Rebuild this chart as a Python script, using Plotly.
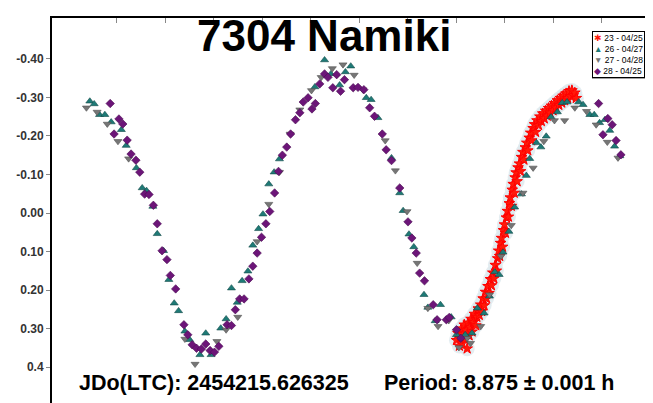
import plotly.graph_objects as go

# ================================
# Lightcurve data (phase, magnitude)
# ================================

# 23 - 04/25 (dense session)
ph23 = [0.700, 0.703, 0.706, 0.708, 0.710, 0.712, 0.714, 0.716, 0.718, 0.720,
        0.722, 0.724, 0.726, 0.728, 0.730, 0.732, 0.735, 0.737, 0.740, 0.742,
        0.745, 0.747, 0.750, 0.752, 0.755, 0.757, 0.760, 0.762, 0.765, 0.767,
        0.770, 0.772, 0.775, 0.777, 0.780, 0.782, 0.785, 0.787, 0.789, 0.791,
        0.793, 0.795, 0.797, 0.799, 0.801, 0.803, 0.805, 0.807, 0.809, 0.811,
        0.813, 0.815, 0.817, 0.819, 0.821, 0.823, 0.825, 0.827, 0.830, 0.832,
        0.834, 0.837, 0.839, 0.842, 0.845, 0.847, 0.850, 0.853, 0.855, 0.858,
        0.861, 0.863, 0.866, 0.869, 0.872, 0.875, 0.878, 0.881, 0.884, 0.887,
        0.890, 0.893, 0.896, 0.899, 0.902, 0.905, 0.908, 0.911, 0.914, 0.917,
        0.920, 0.923, 0.926, 0.929, 0.932, 0.935, 0.938, 0.941, 0.944, 0.947]
mag23 = [0.330, 0.312, 0.345, 0.322, 0.300, 0.338, 0.315, 0.290, 0.328, 0.305,
         0.352, 0.285, 0.318, 0.296, 0.275, 0.308, 0.283, 0.262, 0.292, 0.270,
         0.248, 0.265, 0.238, 0.255, 0.222, 0.240, 0.205, 0.222, 0.190, 0.208,
         0.172, 0.188, 0.155, 0.170, 0.135, 0.150, 0.118, 0.098, 0.112, 0.078,
         0.065, 0.088, 0.045, 0.030, 0.052, 0.012, -0.005, 0.010, -0.025, -0.040,
         -0.018, -0.060, -0.075, -0.052, -0.092, -0.105, -0.082, -0.118, -0.128, -0.108,
         -0.145, -0.158, -0.138, -0.170, -0.182, -0.162, -0.195, -0.208, -0.188, -0.220,
         -0.230, -0.210, -0.240, -0.228, -0.250, -0.238, -0.258, -0.245, -0.265, -0.252,
         -0.272, -0.260, -0.278, -0.266, -0.285, -0.273, -0.292, -0.280, -0.298, -0.286,
         -0.304, -0.292, -0.310, -0.298, -0.316, -0.303, -0.318, -0.305, -0.312, -0.298]

# 26 - 04/27
ph26 = [-0.056, -0.047, -0.036, -0.025, -0.012, 0.009, 0.019, 0.040, 0.052, 0.061,
        0.074, 0.083, 0.096, 0.107, 0.118, 0.127, 0.140, 0.150, 0.171, 0.183,
        0.194, 0.214, 0.225, 0.236, 0.248, 0.258, 0.270, 0.280, 0.292, 0.301,
        0.313, 0.324, 0.335, 0.408, 0.428, 0.441, 0.459, 0.471, 0.482, 0.514,
        0.524, 0.538, 0.566, 0.583, 0.590, 0.602, 0.612, 0.633, 0.641, 0.656,
        0.667, 0.689, 0.700, 0.718, 0.732, 0.743, 0.757, 0.768, 0.779, 0.788,
        0.796, 0.808, 0.820, 0.834, 0.844, 0.851, 0.865, 0.874, 0.885, 0.895,
        0.908, 0.918, 0.928, 0.952, 0.961, 0.975, 0.984, 0.995, 1.006, 1.016,
        1.026, 1.037]
mag26 = [-0.290, -0.283, -0.255, -0.255, -0.236, -0.216, -0.175, -0.117, -0.065, -0.058,
         -0.017, 0.054, 0.098, 0.173, 0.234, 0.254, 0.307, 0.329, 0.368, 0.312,
         0.368, 0.299, 0.275, 0.195, 0.232, 0.176, 0.151, 0.084, 0.041, 0.003,
         -0.075, -0.106, -0.140, -0.327, -0.397, -0.361, -0.332, -0.366, -0.381, -0.299,
         -0.294, -0.247, -0.143, -0.052, -0.006, 0.055, 0.088, 0.212, 0.245, 0.280,
         0.238, 0.270, 0.316, 0.316, 0.312, 0.247, 0.260, 0.216, 0.153, 0.160,
         0.102, 0.048, -0.015, -0.049, -0.097, -0.141, -0.182, -0.171, -0.199, -0.249,
         -0.262, -0.286, -0.288, -0.288, -0.281, -0.255, -0.255, -0.234, -0.242, -0.214,
         -0.173, -0.148]

# 27 - 04/28
ph27 = [-0.063, -0.041, -0.020, 0.002, 0.024, 0.140, 0.161, 0.206, 0.225, 0.249,
        0.289, 0.313, 0.335, 0.357, 0.377, 0.401, 0.421, 0.444, 0.466, 0.489,
        0.507, 0.553, 0.574, 0.598, 0.619, 0.641, 0.662, 0.684, 0.705, 0.722,
        0.729, 0.750, 0.768, 0.792, 0.813, 0.837, 0.858, 0.880, 0.902, 0.923,
        0.944, 0.968, 0.988, 1.011, 1.033]
mag27 = [-0.273, -0.262, -0.231, -0.186, -0.141, 0.327, 0.392, 0.333, 0.303, 0.270,
         0.074, -0.023, -0.106, -0.205, -0.268, -0.318, -0.352, -0.375, -0.385, -0.358,
         -0.320, -0.188, -0.110, -0.004, 0.130, 0.247, 0.294, 0.279, 0.349, 0.325,
         0.338, 0.294, 0.212, 0.112, 0.032, -0.052, -0.117, -0.186, -0.240, -0.240,
         -0.273, -0.264, -0.229, -0.184, -0.143]

# 28 - 04/25
ph28 = [-0.014, 0.004, 0.012, -0.006, 0.021, 0.029, 0.039, 0.047, 0.057, 0.066,
        0.075, 0.083, 0.093, 0.103, 0.110, 0.121, 0.138, 0.146, 0.155, 0.164,
        0.174, 0.183, 0.192, 0.201, 0.210, 0.227, 0.236, 0.244, 0.253, 0.262,
        0.272, 0.280, 0.289, 0.298, 0.307, 0.315, 0.325, 0.333, 0.341, 0.350,
        0.358, 0.368, 0.377, 0.384, 0.394, 0.402, 0.409, 0.418, 0.428, 0.435,
        0.445, 0.453, 0.461, 0.469, 0.487, 0.497, 0.509, 0.521, 0.531, 0.547,
        0.555, 0.566, 0.583, 0.600, 0.608, 0.617, 0.624, 0.634, 0.652, 0.660,
        0.679, 0.685, 0.700, 0.709, 0.993, 1.012, 1.021, 1.002, 1.029, 1.039]
mag28 = [-0.284, -0.244, -0.231, -0.205, -0.189, -0.153, -0.137, -0.106, -0.049, -0.048,
         -0.020, 0.028, 0.098, 0.121, 0.162, 0.197, 0.290, 0.316, 0.342, 0.351,
         0.353, 0.340, 0.357, 0.361, 0.346, 0.290, 0.292, 0.251, 0.223, 0.223,
         0.171, 0.138, 0.104, 0.063, 0.028, -0.004, -0.052, -0.108, -0.150, -0.171,
         -0.205, -0.242, -0.260, -0.288, -0.299, -0.270, -0.284, -0.335, -0.361, -0.352,
         -0.325, -0.359, -0.316, -0.346, -0.325, -0.326, -0.320, -0.273, -0.251, -0.205,
         -0.164, -0.136, -0.065, 0.023, 0.065, 0.104, 0.156, 0.176, 0.238, 0.277,
         0.277, 0.271, 0.303, 0.325, -0.284, -0.245, -0.229, -0.203, -0.188, -0.151]

ytick_vals = [-0.4, -0.3, -0.2, -0.1, 0.0, 0.1, 0.2, 0.3, 0.4]
ytick_text = ['-0.40', '-0.30', '-0.20', '-0.10', '0.00', '0.10', '0.20', '0.30', '0.4']
xtick_vals = [0.0, 0.1, 0.2, 0.3, 0.4, 0.5, 0.6, 0.7, 0.8, 0.9, 1.0]

sessions = ['23 - 04/25', '26 - 04/27', '27 - 04/28', '28 - 04/25']
colors = ['#ff1a0a', '#1e7a76', '#767676', '#6c1578']
glyphs = ['✱', '▲', '▼', '◆']

# ================================
# Figure
# ================================

fig = go.Figure()

# light halo behind the dense session
fig.add_trace(go.Scatter(x=ph23, y=mag23, mode='markers', hoverinfo='skip',
                         marker=dict(symbol='circle', size=15, color='#dde8ee', opacity=0.8)))
fig.add_trace(go.Scatter(x=ph23, y=mag23, mode='markers', name=sessions[0],
                         marker=dict(symbol='star', size=8, color=colors[0],
                                     line=dict(color='#ff0000', width=1))))
fig.add_trace(go.Scatter(x=ph26, y=mag26, mode='markers', name=sessions[1],
                         marker=dict(symbol='triangle-up', size=7, color=colors[1],
                                     line=dict(color='#124a48', width=0.6))))
fig.add_trace(go.Scatter(x=ph27, y=mag27, mode='markers', name=sessions[2],
                         marker=dict(symbol='triangle-down', size=7, color=colors[2],
                                     line=dict(color='#505050', width=0.6))))
fig.add_trace(go.Scatter(x=ph28, y=mag28, mode='markers', name=sessions[3],
                         marker=dict(symbol='diamond', size=6.5, color=colors[3],
                                     line=dict(color='#4a0c52', width=0.6))))

fig.update_xaxes(range=[-0.134, 1.099], tickvals=xtick_vals, showticklabels=False,
                 ticks='inside', ticklen=5, tickcolor='#888',
                 showgrid=False, zeroline=False,
                 showline=True, linecolor='black', linewidth=2, mirror='ticks')
fig.update_yaxes(range=[0.506, -0.506], tickvals=ytick_vals,
                 ticktext=['<b>%s</b>' % t for t in ytick_text],
                 ticks='outside', ticklen=4, tickcolor='#888',
                 tickfont=dict(family='Liberation Sans, Arial', size=12, color='#333'),
                 showgrid=False, zeroline=False,
                 showline=True, linecolor='black', linewidth=2, mirror='ticks')

# compact legend box, with a drop shadow
fig.add_shape(type='rect', xref='paper', yref='paper',
              x0=0.9030, x1=0.9950, y0=0.845, y1=0.962,
              fillcolor='#444', line=dict(width=0), layer='above')
legend_text = '<br>'.join("<span style='color:%s'>%s</span> %s" % (c, g, s)
                          for c, g, s in zip(colors, glyphs, sessions))
fig.add_annotation(text=legend_text, xref='paper', yref='paper',
                   x=0.9916, y=0.967, xanchor='right', yanchor='top', showarrow=False,
                   align='left', borderpad=1,
                   bgcolor='white', bordercolor='black', borderwidth=1,
                   font=dict(family='Liberation Sans, Arial', size=8.5, color='black'))

fig.add_annotation(text='<b>7304 Namiki</b>', xref='paper', yref='paper',
                   x=0.4555, y=0.956, showarrow=False, xanchor='center', yanchor='middle',
                   font=dict(family='Liberation Sans, Arial', size=44, color='black'))
fig.add_annotation(text='<b>JDo(LTC): 2454215.626325</b>', xref='paper', yref='paper',
                   x=0.0413, y=0.065, showarrow=False, xanchor='left', yanchor='middle',
                   font=dict(family='Liberation Sans, Arial', size=21.5, color='black'))
fig.add_annotation(text='<b>Period: 8.875 ± 0.001 h</b>', xref='paper', yref='paper',
                   x=0.552, y=0.065, showarrow=False, xanchor='left', yanchor='middle',
                   font=dict(family='Liberation Sans, Arial', size=21.5, color='black'))

fig.update_layout(
    width=653, height=403,
    margin=dict(l=44, r=11, t=10, b=3),
    paper_bgcolor='white', plot_bgcolor='white',
    showlegend=False,
)

fig.write_html("out.html")
